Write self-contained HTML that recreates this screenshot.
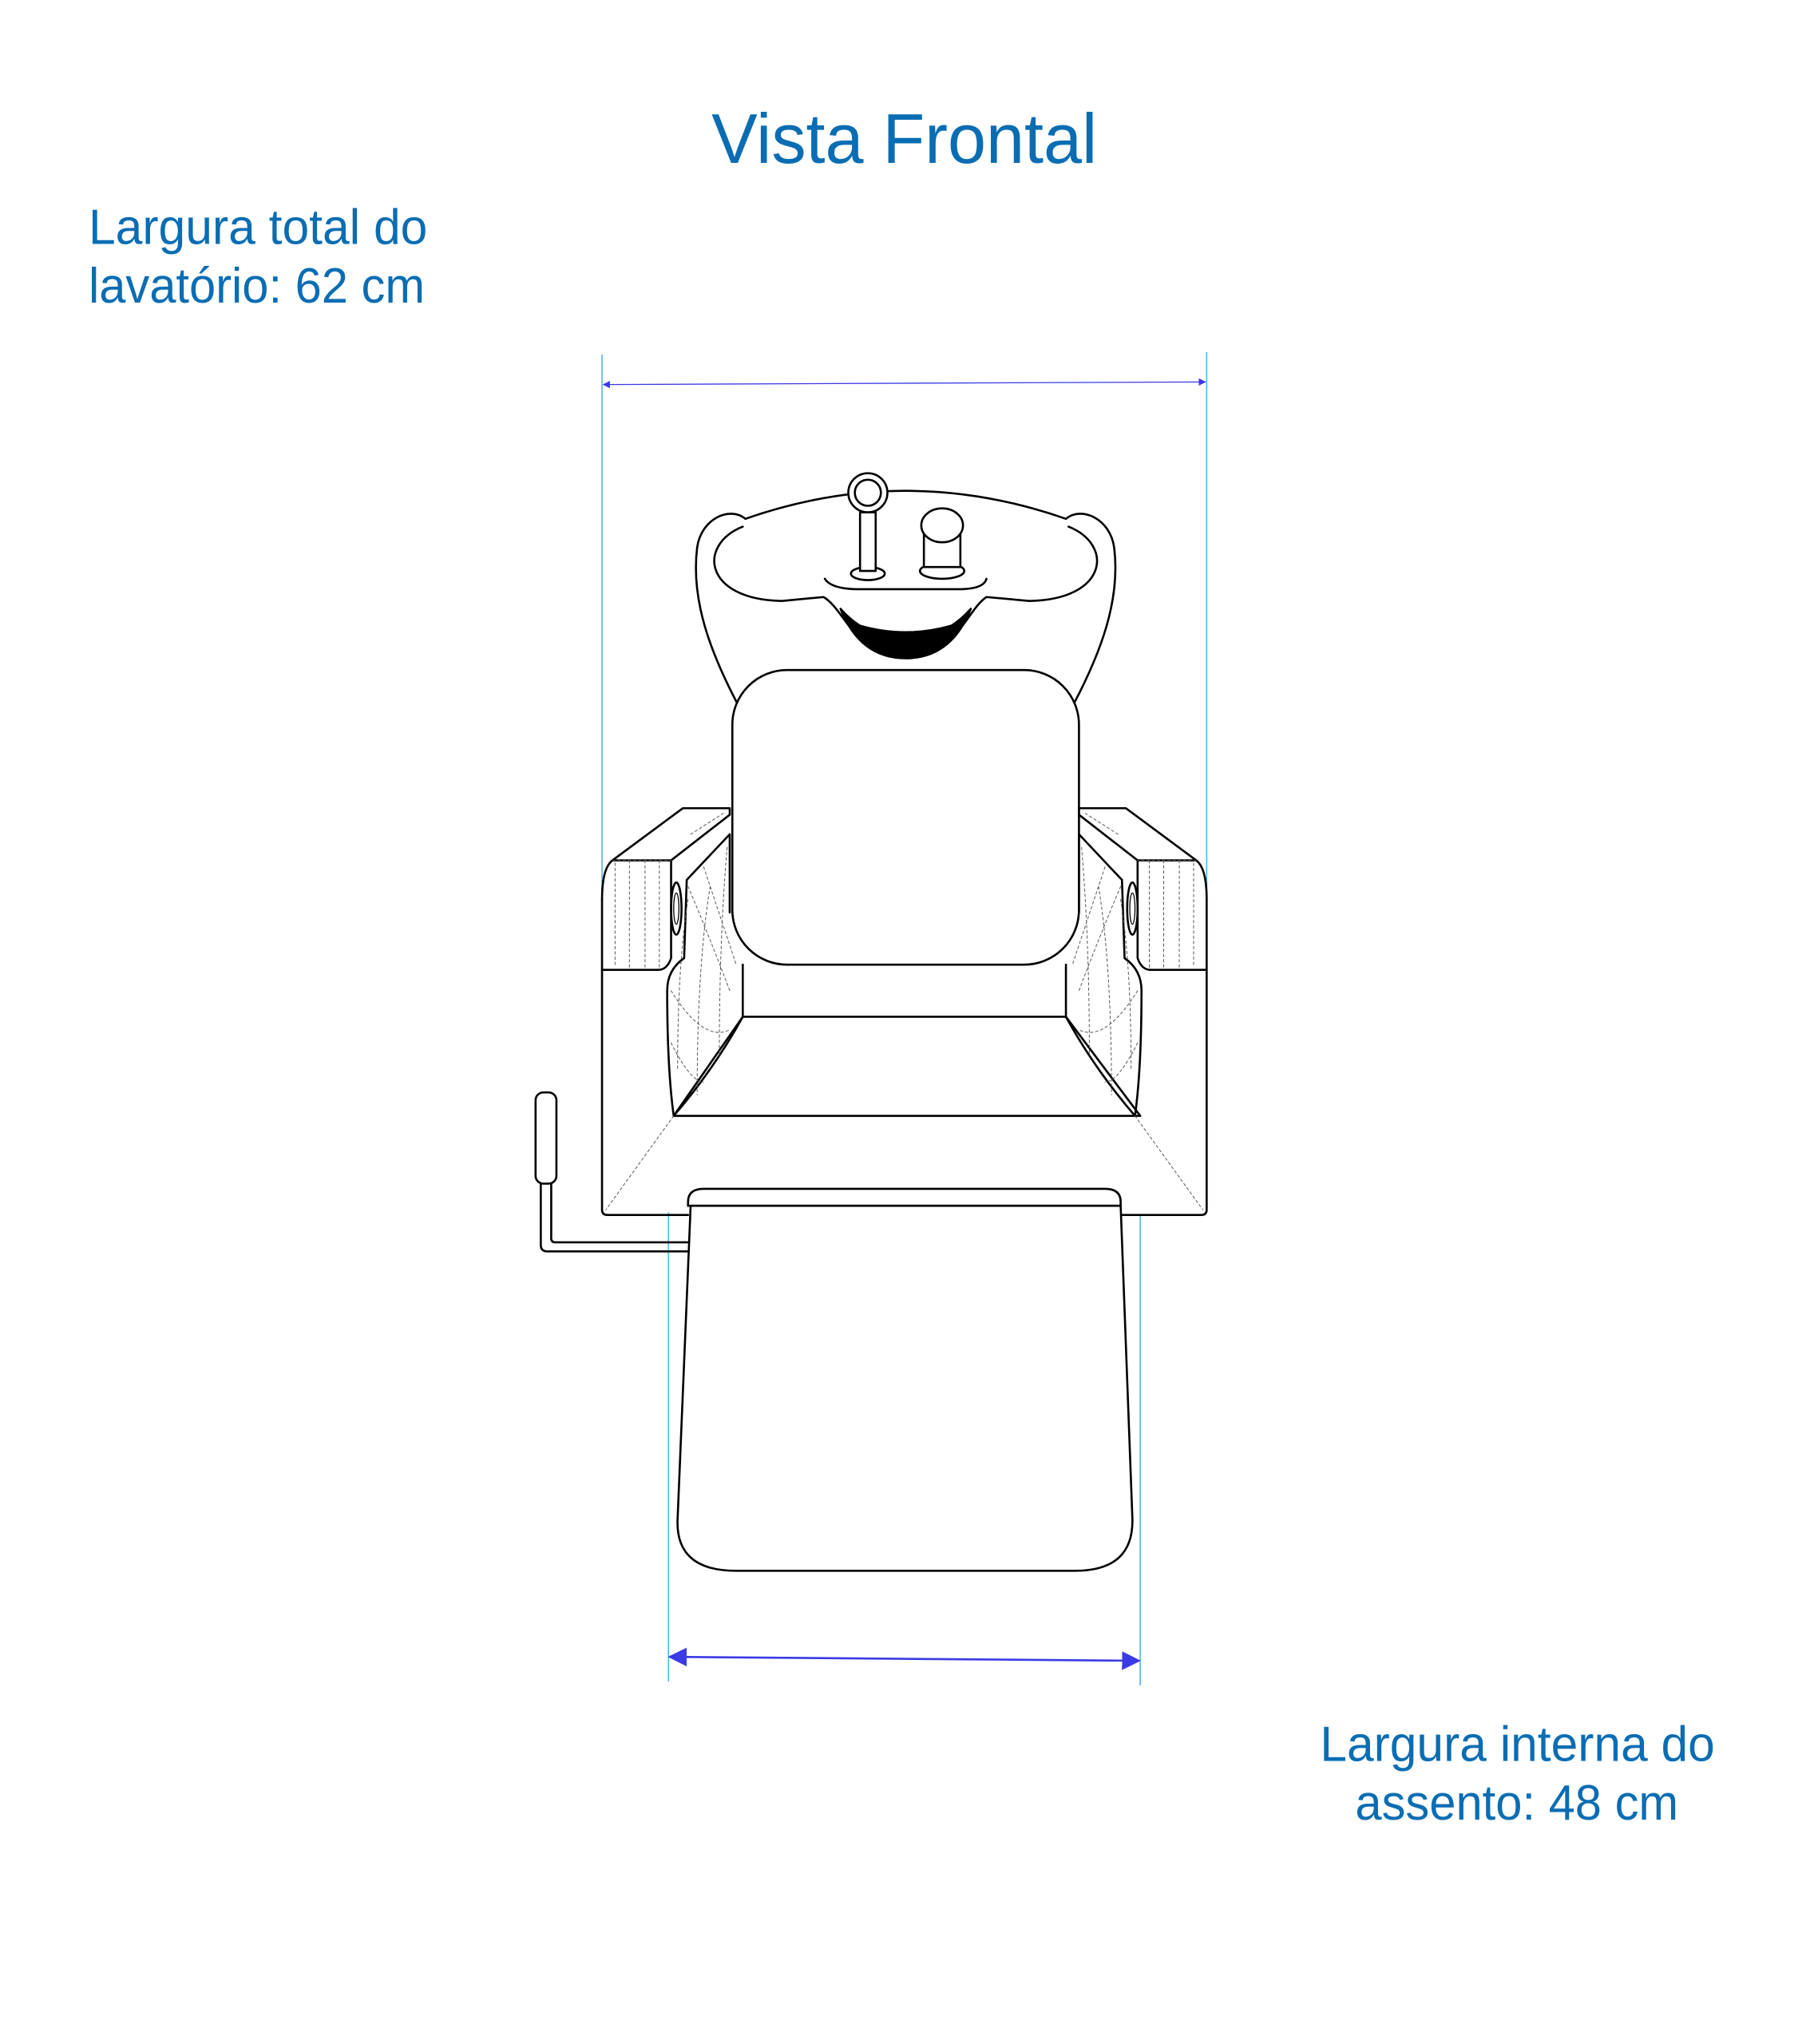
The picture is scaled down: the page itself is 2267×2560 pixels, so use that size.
<!DOCTYPE html>
<html><head><meta charset="utf-8"><style>
html,body{margin:0;padding:0;background:#fff;}
svg{display:block;}
</style></head><body>
<svg width="2267" height="2560" viewBox="0 0 1389 1568" preserveAspectRatio="none" xmlns="http://www.w3.org/2000/svg">
<defs>
<marker id="a1" viewBox="0 0 10 10" refX="9" refY="5" markerWidth="7" markerHeight="7" orient="auto-start-reverse"><path d="M0 0 L10 5 L0 10 z" fill="#3a3ae6"/></marker>
<marker id="a2" viewBox="0 0 10 10" refX="9" refY="5" markerWidth="9" markerHeight="9" markerUnits="strokeWidth" orient="auto-start-reverse"><path d="M0 0 L10 5 L0 10 z" fill="#3a3ae6"/></marker>
</defs>
<g font-family="Liberation Sans, sans-serif" fill="#0a6db3">
<text x="546" y="125" font-size="54" textLength="296" lengthAdjust="spacingAndGlyphs">Vista Frontal</text>
<text x="68" y="187" font-size="38" textLength="260" lengthAdjust="spacingAndGlyphs">Largura total do</text>
<text x="68" y="232" font-size="38" textLength="258" lengthAdjust="spacingAndGlyphs">lavatório: 62 cm</text>
<text x="1013" y="1351" font-size="38" textLength="303" lengthAdjust="spacingAndGlyphs">Largura interna do</text>
<text x="1040" y="1396" font-size="38" textLength="248" lengthAdjust="spacingAndGlyphs">assento: 48 cm</text>
</g>
<g stroke="#4fb8ea" stroke-width="1">
<line x1="462" y1="272" x2="462" y2="690"/>
<line x1="926" y1="270" x2="926" y2="690"/>
<line x1="513" y1="930" x2="513" y2="1290"/>
<line x1="875" y1="932" x2="875" y2="1293"/>
</g>
<line x1="463" y1="295" x2="925" y2="293" stroke="#3a3ae6" stroke-width="0.8" marker-start="url(#a1)" marker-end="url(#a1)"/>
<line x1="514" y1="1271" x2="874" y2="1274" stroke="#3a3ae6" stroke-width="1.6" marker-start="url(#a2)" marker-end="url(#a2)"/>

<g fill="none" stroke="#000" stroke-width="1.6" stroke-linejoin="round" stroke-linecap="round">
<path d="M572 398 Q695 355 818 398 M572 398 C560 388 538 398 535 420 C530 460 545 500 566 540 M818 398 C830 388 852 398 855 420 C860 460 845 500 824 540"/>
<path d="M570 404 C535 418 540 460 600 461 L632 458 C642 464 648 478 660 490 Q695 512 730 490 C742 478 748 464 757 458 L790 461 C850 460 855 418 820 404"/>
<path d="M645 467 Q660 505 695 505 Q730 505 745 467 Q738 475 730 480 Q695 490 660 480 Q652 475 645 467 z" fill="#000"/>
<path d="M633 444 Q638 452 660 452 L735 452 Q755 452 757 444"/>
<circle cx="666" cy="378" r="15" fill="#fff"/>
<circle cx="666" cy="378" r="10"/>
<ellipse cx="666" cy="440" rx="13" ry="5" fill="#fff"/>
<rect x="660" y="393" width="12" height="45" fill="#fff"/>
<ellipse cx="723" cy="438" rx="17" ry="6" fill="#fff"/>
<rect x="709" y="405" width="28" height="30" fill="#fff"/>
<ellipse cx="723" cy="403" rx="16" ry="13" fill="#fff"/>
<rect x="562" y="514" width="266" height="226" rx="42" fill="#fff"/>
<path d="M462 690 L462 928 Q462 932 466 932 L528 932 M860 932 L922 932 Q926 932 926 928 L926 690"/>
<line x1="570" y1="740" x2="570" y2="780"/>
<line x1="818" y1="740" x2="818" y2="780"/>
<line x1="570" y1="780" x2="818" y2="780"/>
<line x1="517" y1="856" x2="875" y2="856"/>
<line x1="570" y1="780" x2="517" y2="856"/>
<line x1="818" y1="780" x2="875" y2="856"/>
<g id="arm">
<path d="M462 690 Q462 666 470 660 L524 620 L560 620 L560 625 L515 660 L470 660"/>
<path d="M515 660 L515 735 Q512 744 505 744 L462 744"/>
<path d="M527 675 L560 640 L560 700 M527 675 L525 735 Q512 744 512 760 Q512 820 517 856 Q548 820 570 780"/>
<ellipse cx="519" cy="697" rx="4" ry="20"/>
<ellipse cx="519" cy="697" rx="2" ry="12" stroke-width="0.8"/>
<g stroke="#555" stroke-width="0.6" stroke-dasharray="2 2">
<line x1="517" y1="856" x2="465" y2="928"/>
<line x1="472" y1="662" x2="472" y2="742"/>
<line x1="483" y1="660" x2="483" y2="742"/>
<line x1="495" y1="660" x2="495" y2="742"/>
<line x1="506" y1="660" x2="506" y2="742"/>
<line x1="470" y1="660" x2="515" y2="660"/>
<line x1="530" y1="640" x2="555" y2="624"/>
<path d="M528 680 Q545 720 560 760 M540 665 Q555 710 565 740 M515 760 Q540 800 560 790 M515 800 Q530 830 540 830 M528 690 Q520 740 520 820 M545 680 Q535 740 535 840 M558 650 Q552 720 552 810"/>
</g>
</g>
<use href="#arm" transform="translate(1388,0) scale(-1,1)"/>
<path d="M528 925 L528 922 Q528 912 540 912 L848 912 Q860 912 860 922 L860 925 Z" fill="#fff"/>
<path d="M530 925 L520 1165 Q518 1205 565 1205 L825 1205 Q870 1205 869 1165 L860 925 Z" fill="#fff"/>
<rect x="411" y="838" width="16" height="70" rx="6" fill="#fff"/>
<path d="M415 908 L415 955 Q415 960 420 960 L528 960 M423 908 L423 950 Q423 953 426 953 L528 953"/>
</g>
</svg>
</body></html>
